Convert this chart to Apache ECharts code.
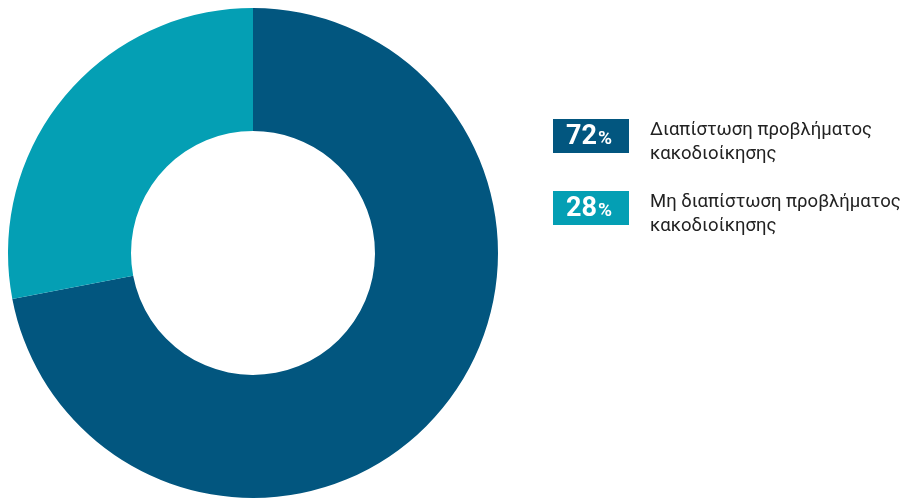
<!DOCTYPE html>
<html><head><meta charset="utf-8">
<script src="https://cdn.jsdelivr.net/npm/echarts@6/dist/echarts.min.js"></script>
<style>html,body{margin:0;padding:0;background:#fff}#c{width:903px;height:498px}</style>
</head><body><div id="c"></div>
<script>
const categories = ['Διαπίστωση προβλήματος\nκακοδιοίκησης', 'Μη διαπίστωση προβλήματος\nκακοδιοίκησης'];
const values = [72, 28];
const colors = ['#02567f', '#049fb4'];

const chart = echarts.init(document.getElementById('c'));
const legendTop = [118, 190];
const graphics = [];
categories.forEach((c, i) => {
  graphics.push({
    type: 'group', left: 553, top: legendTop[i],
    children: [
      {type: 'rect', shape: {x: 0, y: 0, width: 76, height: 34}, style: {fill: colors[i]}},
      {type: 'text', x: 13, y: 18, style: {
        text: '{n|' + values[i] + '}{p|%}', verticalAlign: 'middle',
        rich: {
          n: {fontFamily: 'Roboto', fontWeight: 'bold', fontSize: 27, fill: '#fff'},
          p: {fontFamily: 'Roboto', fontWeight: 'bold', fontSize: 19, fill: '#fff', padding: [5, 0, 0, 1]}
        }}},
      {type: 'text', x: 97, y: -1, style: {
        text: c, fontFamily: 'Roboto', fontSize: 18.5, lineHeight: 24, fill: '#222', verticalAlign: 'top'}}
    ]
  });
});

chart.setOption({
  animation: false,
  series: [{
    type: 'pie',
    center: [253, 253],
    radius: [122, 245],
    startAngle: 90,
    clockwise: true,
    label: {show: false},
    labelLine: {show: false},
    emphasis: {disabled: true},
    data: categories.map((c, i) => ({name: c, value: values[i], itemStyle: {color: colors[i]}}))
  }],
  graphic: graphics
});
</script></body></html>
